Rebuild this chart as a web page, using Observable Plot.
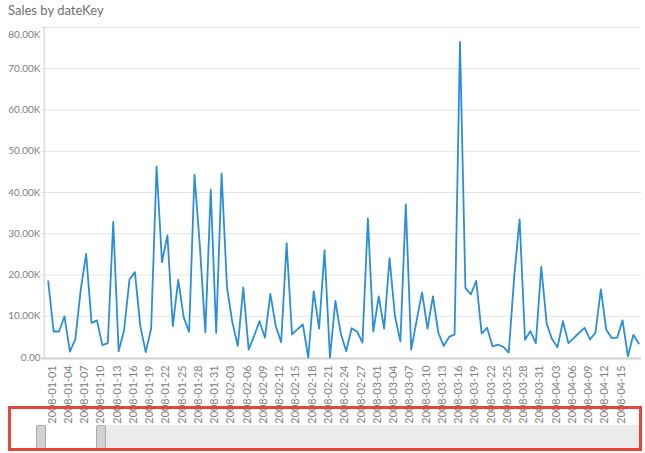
<!DOCTYPE html>
<html><head><meta charset="utf-8">
<script src="https://cdn.jsdelivr.net/npm/d3@7"></script>
<script src="https://cdn.jsdelivr.net/npm/@observablehq/plot@0.6"></script>
<style>
body{margin:0;background:#fff;font-family:"Segoe UI",Lato,"Liberation Sans",Arial,sans-serif;}
#wrap{position:relative;width:645px;height:453px;overflow:hidden;background:#fff;}
#chart{position:absolute;left:0;top:0;}
#title{position:absolute;left:8px;top:2px;font-size:13px;color:#707070;white-space:nowrap;}
#box{position:absolute;left:8px;top:406px;width:634px;height:45px;border:3px solid #e5453b;box-sizing:border-box;}
#track{position:absolute;left:36px;top:425px;width:603px;height:25px;background:#ebebeb;}
#sel{position:absolute;left:42px;top:425px;width:58px;height:25px;background:#fff;}
.handle{position:absolute;top:425px;width:8px;height:23px;background:#d2d2d2;border:1px solid #aaa;border-radius:2px;}
</style></head><body>
<div id="wrap">
<div id="chart"></div>
<div id="title"></div>
<div id="track"></div><div id="sel"></div>
<div class="handle" style="left:36px"></div><div class="handle" style="left:96px"></div>
<div id="box"></div>
</div>
<script>
const title = "Sales by dateKey";
const startDate = "2008-01-01";
const sales = [
  18500, 6300, 6300, 10000, 1400, 4400, 16400, 25100, 8400, 9000,
  3000, 3500, 32900, 1500, 6600, 18900, 20700, 7600, 1300, 7100,
  46300, 23100, 29600, 7600, 18800, 9800, 6200, 44300, 26800, 6100,
  40700, 6000, 44600, 17000, 8400, 2800, 17000, 1900, 5200, 8800,
  4800, 15400, 7600, 3700, 27700, 5600, 6800, 8000, 0, 16100,
  7000, 26000, 0, 13700, 5800, 1500, 7100, 6300, 3600, 33700,
  6300, 14800, 7000, 24100, 10000, 3900, 37100, 1900, 9000, 15800,
  7000, 14800, 6000, 2800, 5000, 5600, 76500, 16800, 15300, 18600,
  5800, 7200, 2700, 3100, 2600, 1200, 19500, 33500, 4300, 6400,
  3500, 22000, 8200, 4400, 2500, 8800, 3500, 4700, 6000, 7200,
  4400, 6000, 16500, 6700, 4700, 4800, 9000, 300, 5500, 3400
];
const yTicks = [0, 10000, 20000, 30000, 40000, 50000, 60000, 70000, 80000];
const xTickStep = 3;
const lastXTick = "2008-04-15";

document.getElementById("title").textContent = title;

const start = new Date(startDate + "T00:00:00Z");
const dates = d3.utcDay.range(start, d3.utcDay.offset(start, sales.length)).map(d3.utcFormat("%Y-%m-%d"));
const data = dates.map((d, i) => ({date: d, sales: sales[i]}));
const xTicks = dates.filter((d, i) => i % xTickStep === 0 && d <= lastXTick);
const fmt = d => d === 0 ? "0.00" : (d / 1000).toFixed(2) + "K";
const font = '"Segoe UI",Lato,"Liberation Sans",Arial,sans-serif';

const chart = Plot.plot({
  width: 645, height: 453,
  marginLeft: 41, marginTop: 27, marginBottom: 96, marginRight: 4,
  style: {fontFamily: font, fontSize: "10px", color: "#777", background: "transparent", overflow: "visible"},
  x: {type: "point", domain: dates, range: [45, 641], label: null},
  y: {domain: [0, 80000], range: [357, 27], label: null},
  marks: [
    Plot.gridY(yTicks.slice(1), {stroke: "#e3e3e3", strokeOpacity: 1}),
    Plot.ruleX([dates[0]], {dx: -4, y1: 0, y2: 80000, stroke: "#cccccc"}),
    Plot.ruleY([0], {stroke: "#cfcfcf", strokeWidth: 2, dy: 1}),
    Plot.axisY(yTicks.slice(0, -1), {tickSize: 0, tickPadding: 1, tickFormat: fmt, fill: "#808080"}),
    Plot.axisY(yTicks.slice(-1), {tickSize: 0, tickPadding: 1, tickFormat: fmt, fill: "#808080", dy: 7}),
    Plot.axisX(xTicks, {tickSize: 0, tickPadding: 8, tickRotate: -90, fill: "#808080", dx: 4, fontSize: 10.8}),
    Plot.lineY(data, {x: "date", y: "sales", stroke: "#2a8fd8", strokeWidth: 1.8})
  ]
});
document.getElementById("chart").appendChild(chart);
</script>
</body></html>
